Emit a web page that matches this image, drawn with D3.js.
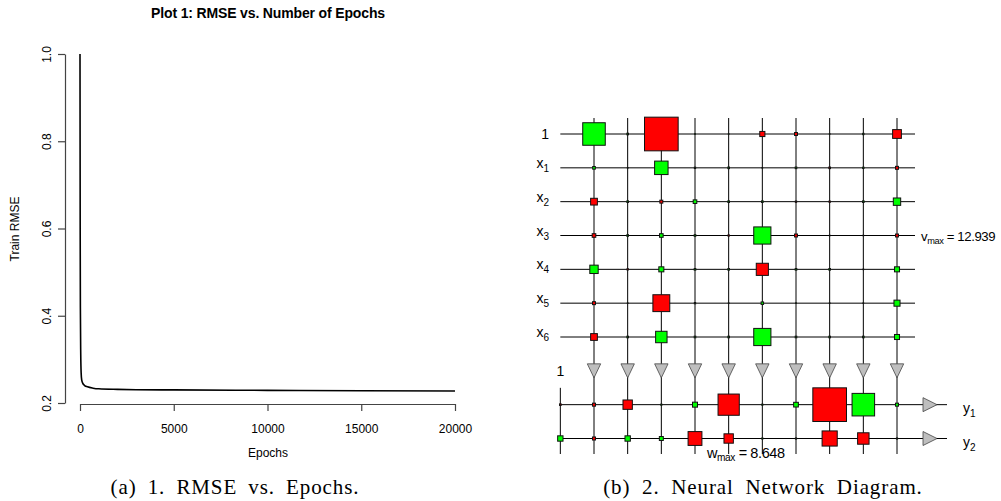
<!DOCTYPE html>
<html>
<head>
<meta charset="utf-8">
<script src="https://cdn.jsdelivr.net/npm/d3@7"></script>
<style>
  body { margin: 0; background: #fff; }
  svg { display: block; }
  .sans { font-family: "Liberation Sans", Arial, sans-serif; }
  .serif { font-family: "Liberation Serif", "DejaVu Serif", serif; }
</style>
</head>
<body>
<svg id="chart" width="1001" height="501"></svg>
<script>
// plot 1: train RMSE per epoch
const epochs = [0, 10, 20, 40, 60, 90, 150, 250, 400, 700, 1000, 2000, 3000, 5000, 10000, 15000, 20000];
const rmse = [1.0, 0.6, 0.42, 0.31, 0.27, 0.253, 0.245, 0.24, 0.237, 0.234, 0.2325, 0.2312, 0.2305, 0.23, 0.229, 0.228, 0.2275];
const epochTicks = [0, 5000, 10000, 15000, 20000];
const rmseTicks = [0.2, 0.4, 0.6, 0.8, 1.0];

// plot 2: network weights (green = positive, red = negative)
const inputLabels = [['1', ''], ['x', '1'], ['x', '2'], ['x', '3'], ['x', '4'], ['x', '5'], ['x', '6']];
const outputLabels = [['y', '1'], ['y', '2']];
const vMax = 12.939;
const wMax = 8.648;
const inputWeights = [
  [5.8, 0.03, -12.939, 0.005, 0.005, -0.3, -0.1, 0.005, 0.02, -0.88],
  [0.08, 0.005, 2.07, 0.02, 0.03, 0.005, 0.03, -0.03, 0.02, -0.1],
  [-0.52, 0.03, -0.1, 0.15, 0.03, 0.03, -0.02, -0.02, 0.03, 0.62],
  [-0.15, 0.03, 0.15, 0.03, -0.02, 3.37, -0.1, 0.005, 0.005, -0.1],
  [0.8, -0.02, 0.29, 0.03, 0.03, -1.68, 0.03, 0.03, 0.005, 0.29],
  [-0.1, 0.005, -3.25, 0.02, 0.005, 0.07, 0.005, 0.005, 0.005, 0.42],
  [-0.52, 0.03, 1.49, 0.03, 0.03, 3.37, 0.03, 0.03, 0.03, 0.29]
];
// first entry of each row is the output bias
const outputWeights = [
  [-0.02, -0.07, -0.67, 0.01, 0.19, -3.44, 0.01, 0.17, -8.648, 3.88, 0.07],
  [0.22, -0.07, 0.22, 0.12, -1.46, -0.67, 0.01, 0.01, -1.75, -1.0, 0.01]
];

const svg = d3.select('#chart');

// ---------- left: RMSE vs epochs
const x = d3.scaleLinear().domain([0, 20000]).range([80, 455]);
const y = d3.scaleLinear().domain([0.2, 1.0]).range([403, 54]);

svg.append('text')
  .attr('class', 'sans')
  .attr('x', 268).attr('y', 18)
  .attr('text-anchor', 'middle')
  .attr('font-size', 14).attr('font-weight', 'bold')
  .attr('letter-spacing', -0.15)
  .text('Plot 1: RMSE vs. Number of Epochs');

const xAxis = svg.append('g')
  .attr('transform', 'translate(0,404)')
  .call(d3.axisBottom(x).tickValues(epochTicks).tickFormat(d3.format('d')).tickSize(7).tickSizeOuter(0));

const yAxis = svg.append('g')
  .attr('transform', 'translate(65,0)')
  .call(d3.axisLeft(y).tickValues(rmseTicks).tickFormat(d3.format('.1f')).tickSize(7).tickSizeOuter(0));

[xAxis, yAxis].forEach(g => {
  g.selectAll('path, line').attr('stroke', '#444').attr('stroke-width', 1.2);
  g.selectAll('text').attr('class', 'sans').attr('font-size', 12).attr('fill', '#000');
});
xAxis.selectAll('text').attr('y', 20);
yAxis.selectAll('text')
  .attr('x', null).attr('dy', null)
  .attr('text-anchor', 'middle')
  .attr('transform', 'translate(-14,0) rotate(-90)');

svg.append('text')
  .attr('class', 'sans')
  .attr('transform', 'translate(19,229) rotate(-90)')
  .attr('text-anchor', 'middle')
  .attr('font-size', 12)
  .text('Train RMSE');

svg.append('text')
  .attr('class', 'sans')
  .attr('x', 268).attr('y', 457)
  .attr('text-anchor', 'middle')
  .attr('font-size', 12)
  .text('Epochs');

const line = d3.line()
  .x((d, i) => x(epochs[i]))
  .y(d => y(d))
  .curve(d3.curveMonotoneX);

svg.append('path')
  .datum(rmse)
  .attr('d', line)
  .attr('fill', 'none')
  .attr('stroke', '#000')
  .attr('stroke-width', 1.6);

// ---------- right: network diagram
const col = d3.scaleLinear().domain([0, 9]).range([594, 897]);
const row = d3.scaleLinear().domain([0, 9]).range([134, 438.5]);
const step = col(1) - col(0);
const sideIn = d3.scaleSqrt().domain([0, vMax]).range([0, step]);
const sideOut = d3.scaleSqrt().domain([0, wMax]).range([0, step]);
const hidden = d3.range(10);

const net = svg.append('g');

// grid lines
net.selectAll('.vline').data(hidden).join('line')
  .attr('x1', d => col(d)).attr('x2', d => col(d))
  .attr('y1', row(0) - 16).attr('y2', 454)
  .attr('stroke', '#000');

net.selectAll('.hin').data(inputLabels).join('line')
  .attr('x1', col(-1)).attr('x2', col(9) + 18)
  .attr('y1', (d, i) => row(i)).attr('y2', (d, i) => row(i))
  .attr('stroke', '#000');

net.selectAll('.hout').data(outputLabels).join('line')
  .attr('x1', col(-1)).attr('x2', col(9) + 50)
  .attr('y1', (d, i) => row(8 + i)).attr('y2', (d, i) => row(8 + i))
  .attr('stroke', '#000');

net.append('line')
  .attr('x1', col(-1)).attr('x2', col(-1))
  .attr('y1', row(7) + 17).attr('y2', 454)
  .attr('stroke', '#000');

// weight squares
const cellsIn = inputWeights.flatMap((r, i) => r.map((w, j) => ({ w, cx: col(j), cy: row(i), s: sideIn(Math.abs(w)) })));
const cellsOut = outputWeights.flatMap((r, i) => r.map((w, j) => ({ w, cx: col(j - 1), cy: row(8 + i), s: sideOut(Math.abs(w)) })));

net.selectAll('.cell').data(cellsIn.concat(cellsOut)).join('rect')
  .attr('x', d => d.cx - d.s / 2).attr('y', d => d.cy - d.s / 2)
  .attr('width', d => d.s).attr('height', d => d.s)
  .attr('fill', d => d.w >= 0 ? '#00ff00' : '#ff0000')
  .attr('stroke', '#111').attr('stroke-width', 1);

// hidden unit triangles
net.selectAll('.tri').data(hidden).join('path')
  .attr('d', d => `M${col(d) - 6.7},${row(7) - 7}L${col(d) + 6.7},${row(7) - 7}L${col(d)},${row(7) + 7}Z`)
  .attr('fill', '#bebebe').attr('stroke', '#444').attr('stroke-width', 0.8);

// output triangles
net.selectAll('.otri').data(outputLabels).join('path')
  .attr('d', (d, i) => `M923,${row(8 + i) - 7}L923,${row(8 + i) + 7}L937,${row(8 + i)}Z`)
  .attr('fill', '#bebebe').attr('stroke', '#444').attr('stroke-width', 0.8);

// labels
function subLabel(g, tx, ty, base, sub, anchor) {
  const t = g.append('text')
    .attr('class', 'sans')
    .attr('x', tx).attr('y', ty)
    .attr('text-anchor', anchor)
    .attr('font-size', 14);
  t.append('tspan').text(base);
  if (sub) t.append('tspan').attr('dy', 4).attr('font-size', 10).text(sub);
  return t;
}

inputLabels.forEach((d, i) => {
  subLabel(net, 549, d[1] ? row(i) : row(i) + 5, d[0], d[1], 'end');
});
outputLabels.forEach((d, i) => {
  subLabel(net, 963, row(8 + i) + 8, d[0], d[1], 'start');
});
subLabel(net, col(-1), row(7) + 5, '1', '', 'middle');

function maxLabel(tx, ty, base, val, size) {
  const t = net.append('text')
    .attr('class', 'sans')
    .attr('x', tx).attr('y', ty)
    .attr('font-size', size)
    .attr('letter-spacing', -0.4);
  t.append('tspan').text(base);
  t.append('tspan').attr('dy', 3).attr('font-size', size * 0.7).text('max');
  t.append('tspan').attr('dy', -3).text(' = ' + val);
}
maxLabel(921, row(3) + 5, 'v', vMax, 13.2);
maxLabel(707, 458, 'w', wMax, 14.5);

// ---------- captions
svg.append('text')
  .attr('class', 'serif')
  .attr('x', 235).attr('y', 494)
  .attr('text-anchor', 'middle')
  .attr('font-size', 21)
  .attr('letter-spacing', 0.9)
  .attr('word-spacing', 5)
  .text('(a) 1. RMSE vs. Epochs.');

svg.append('text')
  .attr('class', 'serif')
  .attr('x', 763).attr('y', 494)
  .attr('text-anchor', 'middle')
  .attr('font-size', 21)
  .attr('letter-spacing', 0.9)
  .attr('word-spacing', 5.5)
  .text('(b) 2. Neural Network Diagram.');
</script>
</body>
</html>
